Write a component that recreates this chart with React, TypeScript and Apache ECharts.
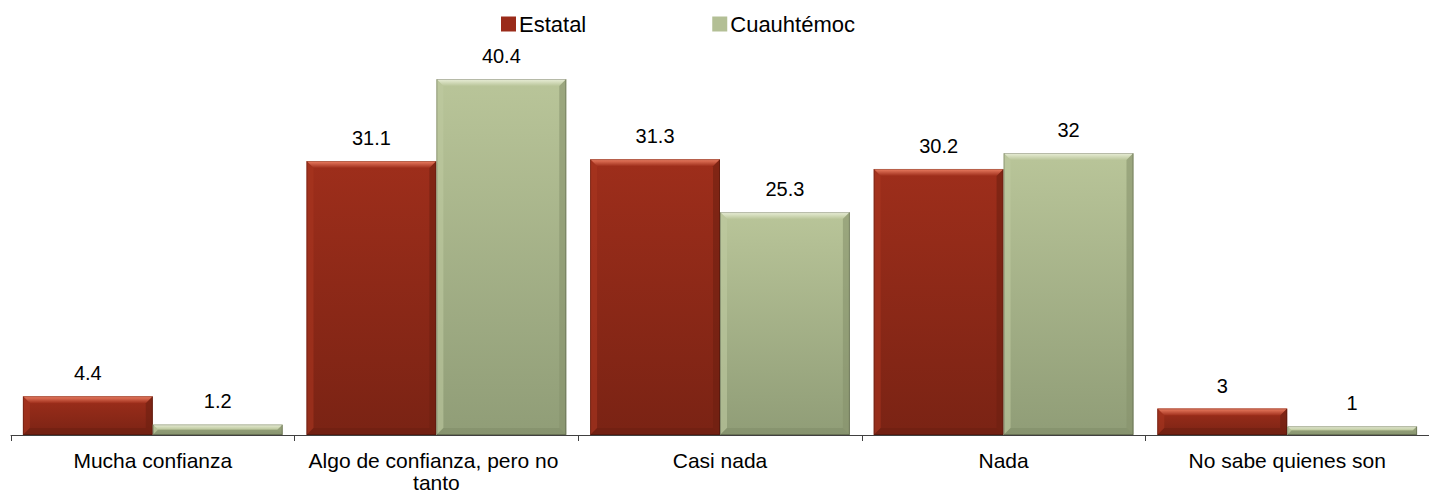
import React, { useEffect, useRef } from "react";
import * as echarts from "echarts";

const categories = [
  "Mucha confianza",
  "Algo de confianza, pero no tanto",
  "Casi nada",
  "Nada",
  "No sabe quienes son",
];
const seriesNames = ["Estatal", "Cuauhtémoc"];
const estatal = [4.4, 31.1, 31.3, 30.2, 3];
const cuauhtemoc = [1.2, 40.4, 25.3, 32, 1];

const palettes = [
  { top: "#EE8064", left: "#A8351F", right: "#6E1F11", bottom: "#6A1E10", face1: "#9E2E1B", face2: "#7A2314", legend: "#9A2B1A" },
  { top: "#EBF0DA", left: "#BEC9A0", right: "#87936C", bottom: "#7E8A66", face1: "#B9C599", face2: "#909D77", legend: "#B3BF95" },
];

const FONT = "Liberation Sans, Arial, sans-serif";

export default function App() {
  const ref = useRef<HTMLDivElement>(null);
  useEffect(() => {
    if (!ref.current) return;
    const chart = echarts.init(ref.current, null, { renderer: "svg" });
    const makeRender = (s: number) => (params: any, api: any) => {
      const idx = api.value(0);
      const val = api.value(1);
      const catW = api.size([1, 0])[0];
      const bw = catW * 0.458;
      const c = api.coord([idx, val]);
      const base = api.coord([idx, 0]);
      const x0 = s === 0 ? c[0] - bw : c[0];
      const x1 = x0 + bw;
      const y0 = c[1];
      const y1 = base[1];
      const h = y1 - y0;
      const b = Math.min(7, h / 2);
      const p = palettes[s];
      const children: any[] = [
        {
          type: "rect",
          shape: { x: x0, y: y0, width: bw, height: h },
          style: {
            fill: new echarts.graphic.LinearGradient(0, 0, 0, 1, [
              { offset: 0, color: p.face1 },
              { offset: 1, color: p.face2 },
            ]),
          },
        },
        {
          type: "polygon",
          shape: { points: [[x0, y0], [x1, y0], [x1 - b, y0 + b], [x0 + b, y0 + b]] },
          style: {
            fill: new echarts.graphic.LinearGradient(0, 0, 0, 1, [
              { offset: 0, color: p.top },
              { offset: 1, color: p.face1 },
            ]),
          },
        },
        { type: "polygon", shape: { points: [[x0, y0], [x0 + b, y0 + b], [x0 + b, y1 - b], [x0, y1]] }, style: { fill: p.left, opacity: 0.6 } },
        { type: "polygon", shape: { points: [[x1, y0], [x1, y1], [x1 - b, y1 - b], [x1 - b, y0 + b]] }, style: { fill: p.right, opacity: 0.6 } },
        { type: "polygon", shape: { points: [[x0, y1], [x0 + b, y1 - b], [x1 - b, y1 - b], [x1, y1]] }, style: { fill: p.bottom, opacity: 0.5 } },
        {
          type: "rect",
          shape: { x: x0 + 0.5, y: y0 + 0.5, width: bw - 1, height: h - 1 },
          style: { fill: "none", stroke: "rgba(0,0,0,0.22)", lineWidth: 1 },
        },
        {
          type: "text",
          style: {
            text: String(val),
            x: x0 + bw / 2,
            y: y0 - 13,
            align: "center",
            verticalAlign: "bottom",
            fontSize: 20,
            fontFamily: FONT,
            fill: "#000",
          },
        },
      ];
      return { type: "group", children };
    };
    const data0 = estatal.map((v, i) => [i, v]);
    const data1 = cuauhtemoc.map((v, i) => [i, v]);
    chart.setOption({
      animation: false,
      backgroundColor: "#fff",
      textStyle: { fontFamily: FONT },
      legend: {
        data: seriesNames,
        left: 501,
        top: 13,
        padding: 0,
        icon: "rect",
        itemWidth: 15,
        itemHeight: 15,
        itemGap: 126,
        textStyle: { fontSize: 22, color: "#000", padding: [0, 0, 0, -2] },
      },
      grid: { left: 11, right: 0, top: 38.5, bottom: 59, containLabel: false },
      xAxis: {
        type: "category",
        data: categories,
        axisLine: { show: true, lineStyle: { color: "#404040", width: 1 } },
        axisTick: { show: true, length: 6, lineStyle: { color: "#404040" } },
        axisLabel: {
          fontSize: 21,
          color: "#000",
          margin: 14,
          lineHeight: 22,
          width: 270,
          overflow: "break",
          interval: 0,
        },
      },
      yAxis: { type: "value", min: 0, max: 45, show: false },
      series: [
        {
          name: seriesNames[0],
          type: "custom",
          renderItem: makeRender(0),
          data: data0,
          itemStyle: { color: palettes[0].legend },
          encode: { x: 0, y: 1 },
        },
        {
          name: seriesNames[1],
          type: "custom",
          renderItem: makeRender(1),
          data: data1,
          itemStyle: { color: palettes[1].legend },
          encode: { x: 0, y: 1 },
        },
      ],
    });
    return () => chart.dispose();
  }, []);
  return (
    <div
      ref={ref}
      style={{ position: "absolute", left: 0, top: 0, width: 1429, height: 494 }}
    />
  );
}
